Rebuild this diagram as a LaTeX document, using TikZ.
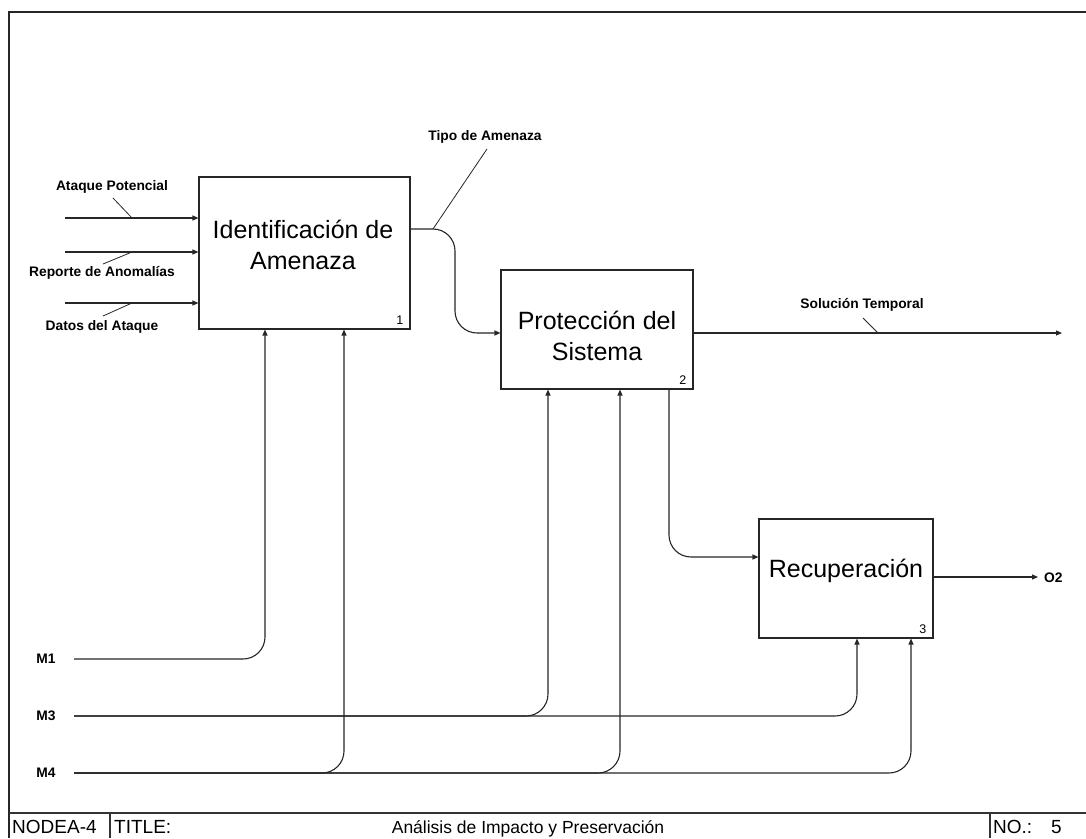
\documentclass[tikz,border=0pt]{standalone}
\usepackage{fontspec}
\setmainfont{Liberation Sans}
\usetikzlibrary{arrows.meta}

\begin{document}
\begin{tikzpicture}[x=1pt,y=-1pt,
  actbox/.style={draw=black!85, line width=1.1pt, inner sep=0pt},
  boxtext/.style={font=\fontsize{25}{30.5}\selectfont, align=center, inner sep=0pt},
  boxnum/.style={font=\fontsize{12.5}{14}\selectfont, inner sep=0pt, anchor=south east},
  flow/.style={draw=black!85, line width=1.1pt, rounded corners=22pt},
  arr/.style={flow, -{Triangle[length=6pt,width=5pt]}},
  lbl/.style={font=\bfseries\fontsize{13.8}{15}\selectfont, inner sep=0pt},
  leader/.style={draw=black!85, line width=0.8pt},
  barline/.style={draw=black!80, line width=1.2pt},
  bartext/.style={font=\fontsize{19}{21}\selectfont, inner sep=0pt, anchor=base west}
]
\useasboundingbox (0,0) rectangle (1086,838);
\fill[white] (0,0) rectangle (1086,838);

% sheet frame and title bar
\draw[line width=2pt, black!85] (9,838) -- (9,12) -- (1086,12);
\draw[barline] (9,813) -- (1086,813);
\draw[barline] (110,813) -- (110,838);
\draw[barline] (990,813) -- (990,838);
\node[bartext] (node) at (12,833) {NODEA-4};
\node[bartext] (ttl) at (114,833) {TITLE:};
\node[bartext, anchor=base, font=\fontsize{17.5}{20}\selectfont] (tname) at (528,833) {Análisis de Impacto y Preservación};
\node[bartext] (no) at (993,833) {NO.:};
\node[bartext] (num) at (1051,833) {5};

% activity boxes
\node[actbox, minimum width=211pt, minimum height=152pt] (b1) at (304.5,253) {};
\node[actbox, minimum width=192pt, minimum height=119pt] (b2) at (597,329.5) {};
\node[actbox, minimum width=174pt, minimum height=119pt] (b3) at (846,578.5) {};
\node[boxtext] (t1) at (303,245) {Identificación de\\Amenaza};
\node[boxtext] (t2) at (597,336) {Protección del\\Sistema};
\node[boxtext] (t3) at (846,571) {Recuperación};
\node[boxnum] (n1) at ([xshift=-7pt,yshift=5pt]b1.south east) {1};
\node[boxnum] (n2) at ([xshift=-7pt,yshift=5pt]b2.south east) {2};
\node[boxnum] (n3) at ([xshift=-7pt,yshift=5pt]b3.south east) {3};

% inputs of box 1
\coordinate (inA) at (65,218);
\coordinate (inR) at (65,252);
\coordinate (inD) at (65,303);
\draw[arr] (inA) -- (inA -| b1.west);
\draw[arr] (inR) -- (inR -| b1.west);
\draw[arr] (inD) -- (inD -| b1.west);
\node[lbl] (lA) at (112,187) {Ataque Potencial};
\node[lbl] (lR) at (102,273) {Reporte de Anomalías};
\node[lbl] (lD) at (102,327) {Datos del Ataque};
\coordinate (kA0) at (113,198); \coordinate (kA1) at (132,218);
\coordinate (kR0) at (103,264); \coordinate (kR1) at (132,252);
\coordinate (kD0) at (103,316); \coordinate (kD1) at (132,303);
\draw[leader] (kA0) -- (kA1);
\draw[leader] (kR0) -- (kR1);
\draw[leader] (kD0) -- (kD1);

% box 1 -> box 2
\draw[arr] (b1.east |- 0,229) -- (455,229) -- (455,333) -- (b2.west |- 0,333);
\node[lbl] (lT) at (485,137) {Tipo de Amenaza};
\coordinate (kT0) at (487,149); \coordinate (kT1) at (433,229);
\draw[leader] (kT0) -- (kT1);

% output of box 2
\coordinate (oS) at (1062,333);
\draw[arr] (b2.east |- oS) -- (oS);
\node[lbl] (lS) at (862,305) {Solución Temporal};
\coordinate (kS0) at (863,318); \coordinate (kS1) at (878,333);
\draw[leader] (kS0) -- (kS1);

% box 2 -> box 3
\draw[arr] (b2.south -| 669,0) -- (669,557) -- (b3.west |- 0,557);

% output of box 3
\coordinate (o2) at (1038,577);
\draw[arr] (b3.east |- o2) -- (o2);
\node[lbl, anchor=west] (lO2) at (1044,578) {O2};

% controls
\node[lbl] (m1) at (46,659) {M1};
\node[lbl] (m3) at (46,716) {M3};
\node[lbl] (m4) at (46,773) {M4};
\coordinate (c1) at (74,659);
\coordinate (c3) at (74,716);
\coordinate (c4) at (74,773);
\draw[arr] (c1) -| (b1.south -| 265,0);
\draw[arr] (c3) -| (b2.south -| 548,0);
\draw[arr] (c3) -| (b3.south -| 857,0);
\draw[arr] (c4) -| (b1.south -| 344,0);
\draw[arr] (c4) -| (b2.south -| 620,0);
\draw[arr] (c4) -| (b3.south -| 911,0);
\end{tikzpicture}
\end{document}
